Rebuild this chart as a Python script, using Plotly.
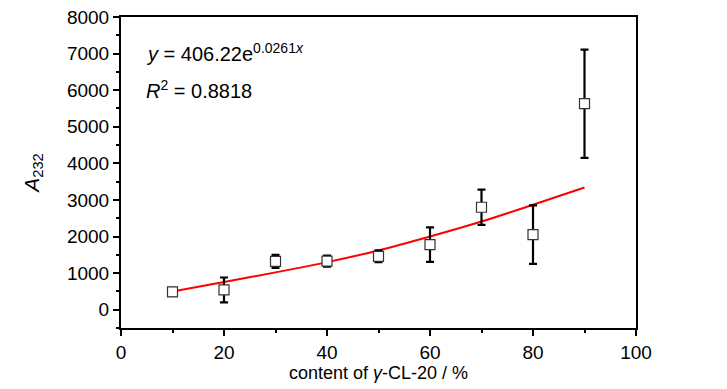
import plotly.graph_objects as go

content = [10, 20, 30, 40, 50, 60, 70, 80, 90]
a232 = [490, 540, 1320, 1330, 1460, 1780, 2800, 2050, 5630]
a232_err = [110, 340, 180, 150, 160, 470, 480, 800, 1480]

fit_x = [10, 20, 30, 40, 50, 60, 70, 80, 90]
fit_y = [500, 757, 1020, 1300, 1620, 2000, 2410, 2870, 3340]

FONT = "Liberation Sans, Arial, sans-serif"

fig = go.Figure()
fig.add_trace(go.Scatter(
    x=fit_x, y=fit_y, mode="lines", line=dict(color="#ff0000", width=2, shape="spline"),
    showlegend=False, hoverinfo="skip"))
fig.add_trace(go.Scatter(
    x=content, y=a232, mode="markers",
    marker=dict(symbol="square", size=10, color="white", line=dict(width=1.2, color="#333333")),
    error_y=dict(type="data", array=a232_err, visible=True, color="black", thickness=2.2, width=4),
    showlegend=False))

axis_common = dict(
    showline=True, linecolor="black", linewidth=2, mirror=True,
    ticks="outside", tickcolor="black", tickwidth=1.5, ticklen=6,
    showgrid=False, zeroline=False, automargin=False, ticklabeloverflow="allow",
    tickfont=dict(family=FONT, size=19, color="black"),
    minor=dict(ticks="outside", ticklen=3, tickcolor="black", tickwidth=1.5),
)

fig.update_xaxes(range=[0, 100], tick0=0, dtick=20, minor_dtick=10,
                 title=dict(text="content of <i>γ</i>-CL-20 / %", font=dict(family=FONT, size=18, color="black"), standoff=4),
                 **axis_common)
fig.update_yaxes(range=[-500, 8000], tick0=0, dtick=1000, minor_dtick=500,
                 title=dict(text="<i>A</i><sub>232</sub>", font=dict(family=FONT, size=21, color="black"), standoff=22),
                 **axis_common)

fig.add_annotation(xref="paper", yref="paper", x=0.045, y=0.886, xanchor="left", yanchor="middle",
                   text="<i>y</i> = 406.22e<sup>0.0261<i>x</i></sup>", showarrow=False,
                   font=dict(family=FONT, size=20, color="black"))
fig.add_annotation(xref="paper", yref="paper", x=0.045, y=0.767, xanchor="left", yanchor="middle",
                   text="<i>R</i><sup>2</sup> = 0.8818", showarrow=False,
                   font=dict(family=FONT, size=20, color="black"))

fig.update_layout(
    width=719, height=381,
    margin=dict(l=113, r=91, t=9, b=61),
    paper_bgcolor="white", plot_bgcolor="white",
)

fig.write_html("out.html")
